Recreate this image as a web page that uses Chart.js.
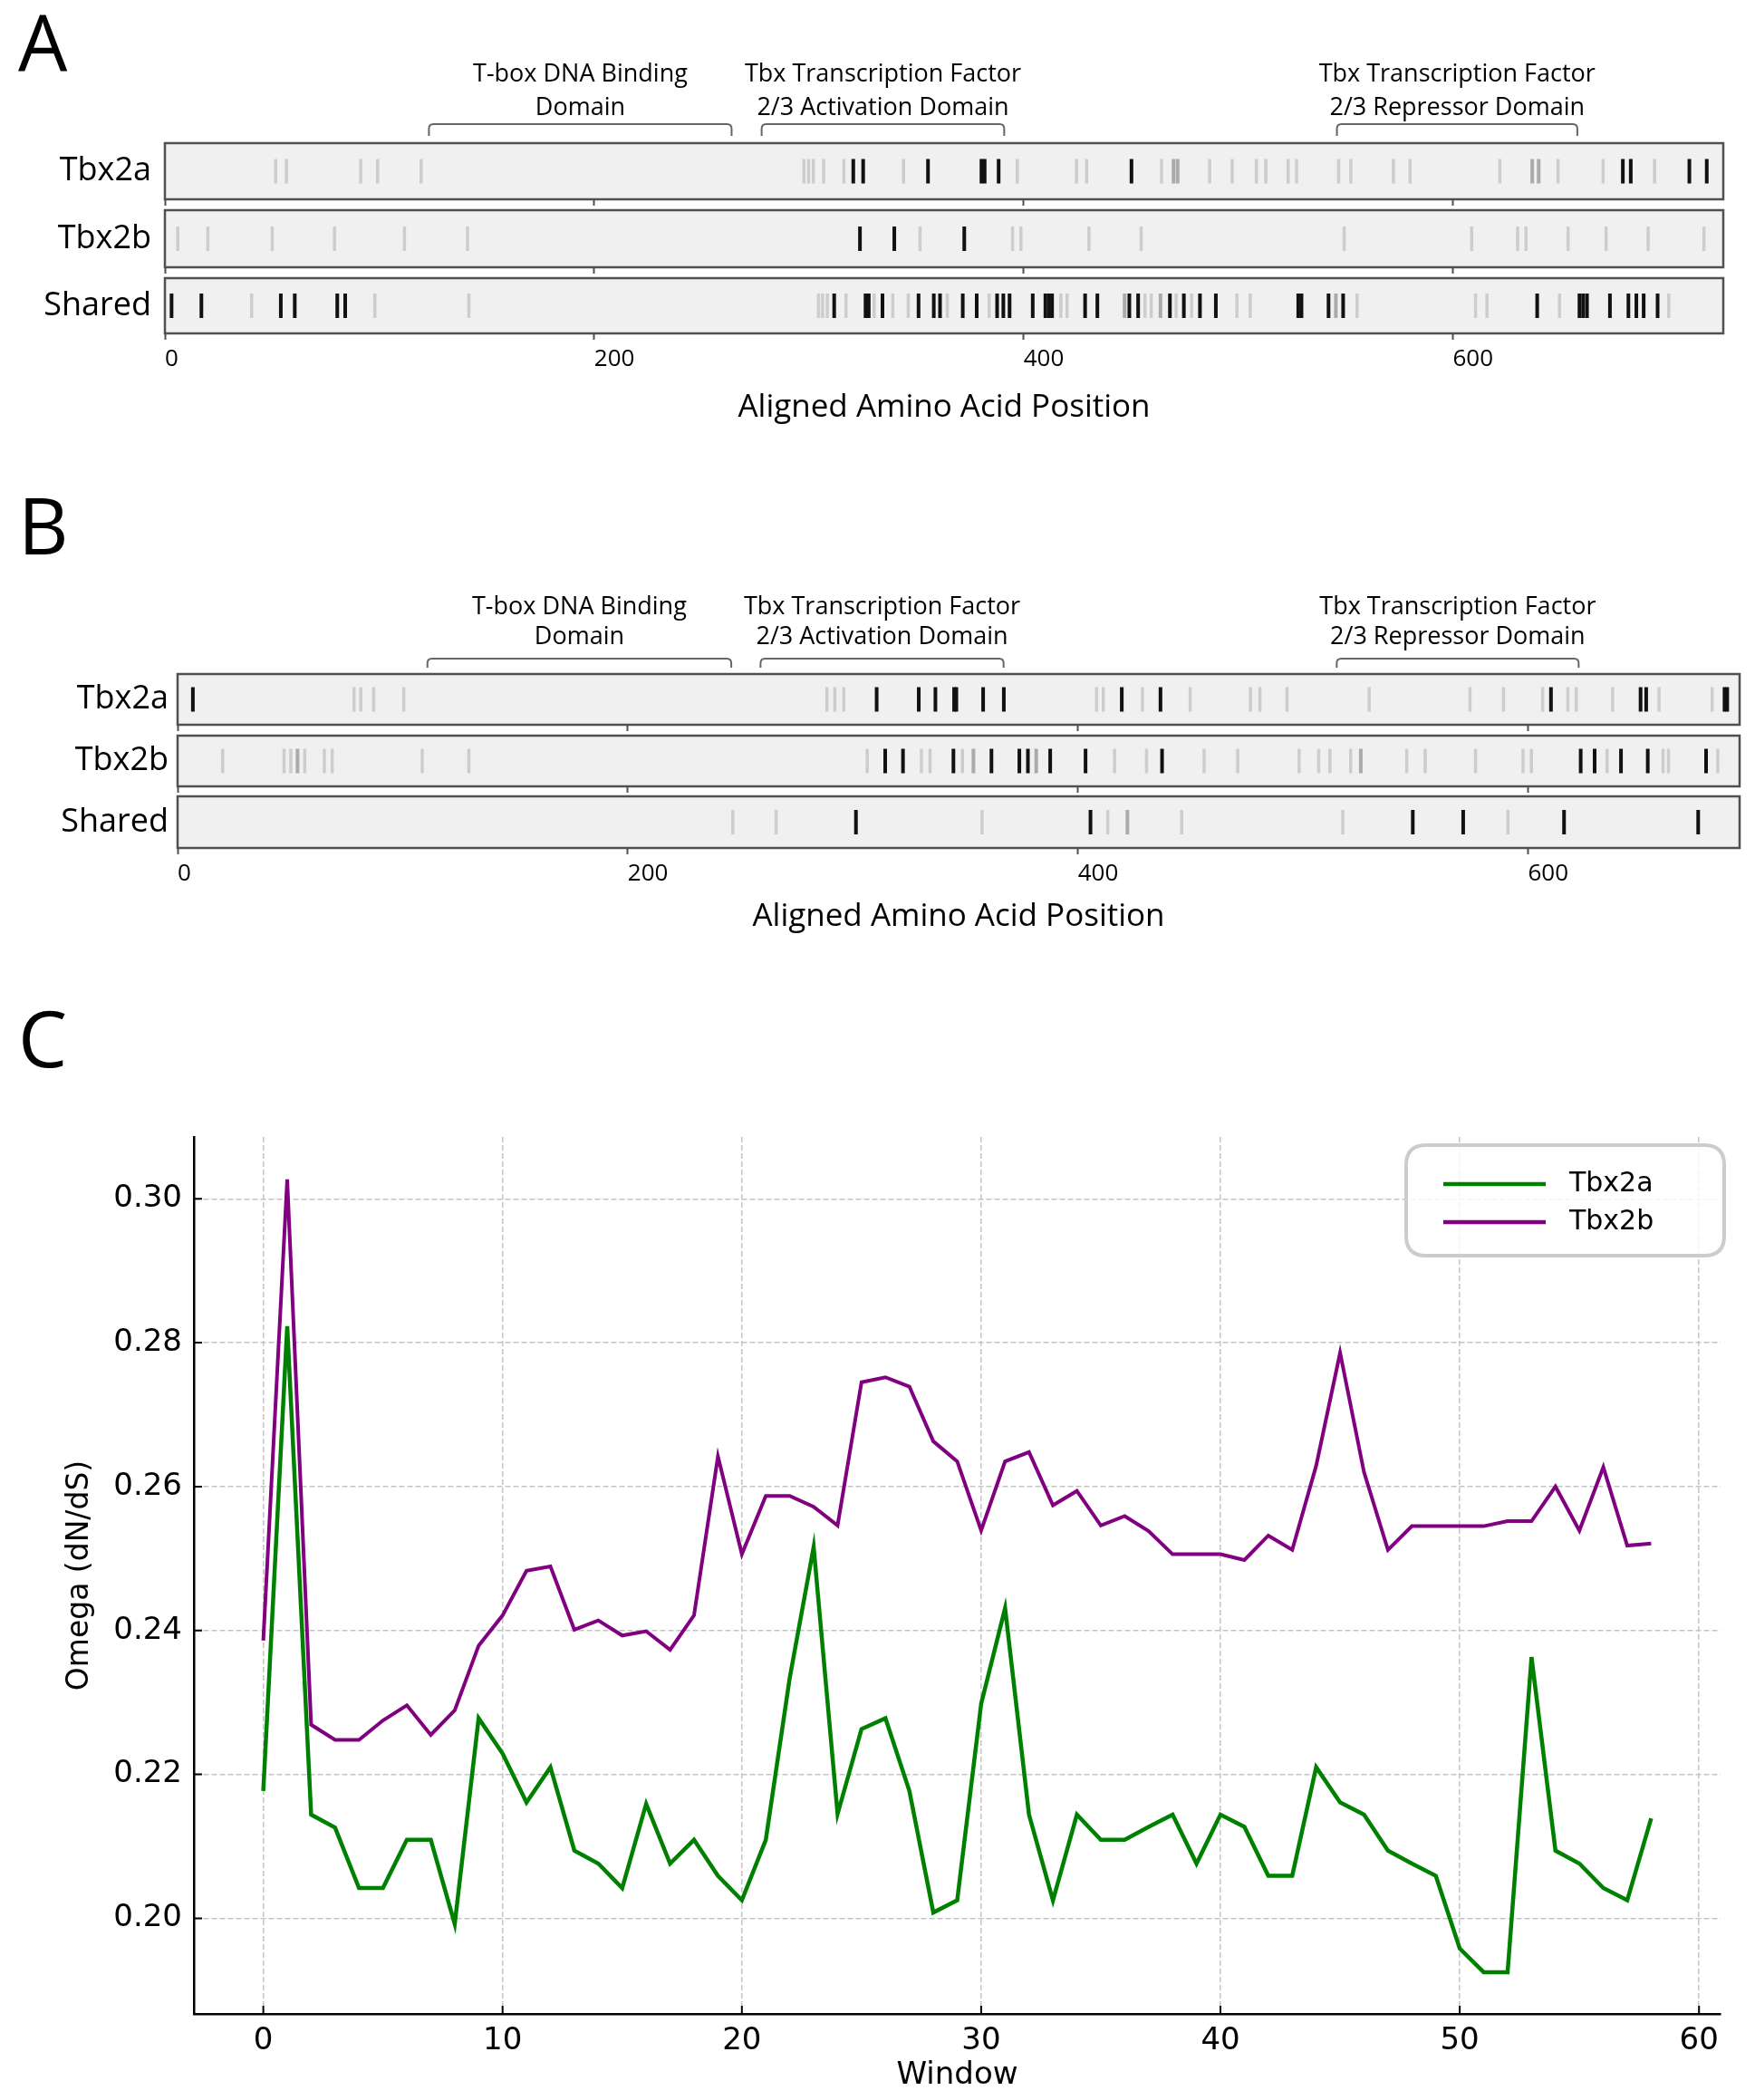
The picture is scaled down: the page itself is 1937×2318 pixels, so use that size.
<!DOCTYPE html>
<html>
<head>
<meta charset="utf-8">
<title>Tbx2a / Tbx2b</title>
<script src="https://cdn.jsdelivr.net/npm/chart.js@4.4.1/dist/chart.umd.min.js"></script>
<style>
html, body { margin: 0; padding: 0; background: #fff; }
body { width: 1937px; height: 2318px; position: relative; overflow: hidden; font-family: 'Open Sans', sans-serif; }
canvas { position: absolute; left: 0; }
.panel { position: absolute; left: 20px; font-size: 86px; line-height: 86px; color: #000; }
</style>
</head>
<body>
<div class="panel" style="top:3px">A</div>
<div class="panel" style="top:536px">B</div>
<div class="panel" style="top:1102px">C</div>

<canvas id="aRow1" width="1937" height="200" style="top:30px"></canvas>
<canvas id="aRow2" width="1937" height="77" style="top:228px"></canvas>
<canvas id="aRow3" width="1937" height="177" style="top:303px"></canvas>
<canvas id="bRow1" width="1937" height="179" style="top:630px"></canvas>
<canvas id="bRow2" width="1937" height="69" style="top:808px"></canvas>
<canvas id="bRow3" width="1937" height="166" style="top:875px"></canvas>
<canvas id="omega" width="1937" height="1078" style="top:1240px"></canvas>

<script>
// ---- data ----
var rowNames = ['Tbx2a', 'Tbx2b', 'Shared'];
var posTicks = [0, 200, 400, 600];

// panel A : aligned positions (light grey / mid grey / black marks)
var aTbx2aLight = [51.6, 56.6, 91.2, 99.1, 119.4, 297.7, 299.9, 302.1, 306.9, 316.3, 344.1, 397.1, 424.7, 429.4, 464.3, 486.7, 497.2, 508.5, 512.9, 523.3, 527.2, 546.8, 552.5, 572.3, 580.1, 621.9, 649, 670, 694];
var aTbx2aMid = [469.9, 471.8, 637, 640];
var aTbx2aDark = [320.7, 325.3, 355.5, 380.4, 381.9, 388.4, 450.3, 679.2, 682.9, 710.2, 718.3];

var aTbx2bLight = [6, 20, 50, 79, 111.6, 141, 351.8, 394.9, 398.8, 430.5, 454.8, 549.4, 608.8, 630.2, 634.1, 653.7, 671.4, 691, 717];
var aTbx2bMid = [];
var aTbx2bDark = [323.8, 339.8, 372.4];

var aSharedLight = [40.4, 97.8, 141.6, 304.5, 306.4, 308.6, 317.3, 330.4, 339.1, 346.3, 364.5, 384, 417.4, 420.3, 456.6, 459.5, 471.1, 478.3, 499.4, 505.6, 555.4, 610.6, 615.9, 649.7, 700.6];
var aSharedMid = [447.1, 463.8, 545.5];
var aSharedDark = [3.1, 17, 54, 60.5, 80.3, 84, 311.8, 326.4, 327.9, 334.3, 351.1, 358.2, 361.1, 371.7, 378.2, 387.7, 390.6, 393.5, 404.3, 410.2, 411.9, 413.3, 428.7, 434.4, 449.3, 453.4, 468.2, 474.7, 482.2, 489.6, 528, 529.5, 542.1, 548.9, 639.3, 659, 660.7, 662.5, 673.2, 681.8, 685.5, 688.9, 695.4];

// panel B
var bTbx2aLight = [78.4, 81.4, 87.1, 100.5, 288.5, 292, 296, 408.3, 411.3, 428.7, 449.9, 476.7, 480.9, 492.9, 529.4, 574.2, 589.1, 606.5, 617.7, 621.4, 637.6, 658.2, 681.8];
var bTbx2aMid = [];
var bTbx2aDark = [6.8, 310.6, 329.3, 336.7, 345, 346, 357.9, 367.1, 419.5, 436.7, 610.2, 650, 652.5, 687.3, 688.5];

var bTbx2bLight = [20, 47.3, 50.3, 56.5, 65.2, 68.7, 108.7, 129.4, 306.4, 330.5, 334.3, 348.7, 416.3, 430.5, 456.1, 471, 498.3, 507, 512, 521.2, 546.1, 554.3, 576.7, 597.8, 601.5, 635.1, 660, 662.4, 684.3];
var bTbx2bMid = [53.3, 353.6, 381.5, 525.7];
var bTbx2bDark = [314.4, 322.3, 344.7, 361.6, 374, 377.8, 387.7, 403.4, 437.4, 623.4, 629.6, 641.3, 653.2, 679.1];

var bSharedLight = [246.7, 265.9, 357.4, 413.3, 446.1, 517.7, 591.1];
var bSharedMid = [422];
var bSharedDark = [301.4, 405.6, 548.8, 571.2, 616, 675.6];

// domain annotations
var domainLines = [
  ['T-box DNA Binding', 'Domain'],
  ['Tbx Transcription Factor', '2/3 Activation Domain'],
  ['Tbx Transcription Factor', '2/3 Repressor Domain']
];
var domainStartA = [123, 278, 546];
var domainEndA = [264, 391, 658];
var domainStartB = [111, 259, 515];
var domainEndB = [246, 367, 622.5];

// panel C : omega per window
var omegaTbx2a = [0.2177, 0.2823, 0.2144, 0.2126, 0.2042, 0.2042, 0.2109, 0.2109, 0.1992, 0.2278,
  0.2229, 0.2161, 0.2210, 0.2094, 0.2076, 0.2042, 0.2159, 0.2076, 0.2109, 0.2059,
  0.2025, 0.2109, 0.2334, 0.2516, 0.2145, 0.2263, 0.2278, 0.2177, 0.2008, 0.2025,
  0.2298, 0.2431, 0.2144, 0.2025, 0.2144, 0.2109, 0.2109, 0.2127, 0.2144, 0.2076,
  0.2144, 0.2127, 0.2059, 0.2059, 0.2210, 0.2161, 0.2144, 0.2094, 0.2076, 0.2059,
  0.1958, 0.1925, 0.1925, 0.2363, 0.2094, 0.2076, 0.2042, 0.2025, 0.2139];
var omegaTbx2b = [0.2386, 0.3027, 0.2269, 0.2248, 0.2248, 0.2275, 0.2296, 0.2255, 0.2289, 0.2379,
  0.2421, 0.2483, 0.2489, 0.2401, 0.2414, 0.2393, 0.2399, 0.2373, 0.2421, 0.2642,
  0.2506, 0.2587, 0.2587, 0.2572, 0.2546, 0.2745, 0.2752, 0.2739, 0.2663, 0.2635,
  0.2539, 0.2635, 0.2648, 0.2574, 0.2594, 0.2546, 0.2559, 0.2538, 0.2506, 0.2506,
  0.2506, 0.2498, 0.2532, 0.2512, 0.2629, 0.2786, 0.2620, 0.2512, 0.2545, 0.2545,
  0.2545, 0.2545, 0.2552, 0.2552, 0.2600, 0.2539, 0.2627, 0.2518, 0.2521];
var windowTicks = [0, 10, 20, 30, 40, 50, 60];
var omegaTicks = [0.20, 0.22, 0.24, 0.26, 0.28, 0.30];

// ---- plugins ----
var stripBox = {
  id: 'stripBox',
  beforeDraw: function(chart) {
    var a = chart.chartArea, c = chart.ctx;
    c.save();
    c.fillStyle = '#f0f0f0';
    c.fillRect(a.left, a.top, a.right - a.left, a.bottom - a.top);
    c.restore();
  },
  afterDraw: function(chart) {
    var a = chart.chartArea, c = chart.ctx;
    c.save();
    c.strokeStyle = '#505050';
    c.lineWidth = 2.5;
    c.strokeRect(a.left, a.top, a.right - a.left, a.bottom - a.top);
    c.restore();
  }
};

function domainPlugin(starts, ends, off) {
  return {
    id: 'domains',
    afterDraw: function(chart) {
      var x = chart.scales.x, top = chart.chartArea.top, c = chart.ctx;
      c.save();
      c.strokeStyle = '#666';
      c.lineWidth = 2;
      c.fillStyle = '#000';
      c.font = '27px "Open Sans"';
      c.textAlign = 'center';
      c.textBaseline = 'middle';
      for (var i = 0; i < starts.length; i++) {
        var x1 = x.getPixelForValue(starts[i]);
        var x2 = x.getPixelForValue(ends[i]);
        var yt = top - off.bracketTop, yb = top - off.bracketBottom, r = 5;
        c.beginPath();
        c.moveTo(x1, yb);
        c.lineTo(x1, yt + r);
        c.quadraticCurveTo(x1, yt, x1 + r, yt);
        c.lineTo(x2 - r, yt);
        c.quadraticCurveTo(x2, yt, x2, yt + r);
        c.lineTo(x2, yb);
        c.stroke();
        var xm = (x1 + x2) / 2;
        c.fillText(domainLines[i][0], xm, top - off.line1);
        c.fillText(domainLines[i][1], xm, top - off.line2);
      }
      c.restore();
    }
  };
}

function marks(list, name) {
  return list.map(function(p) { return {x: p, y: name}; });
}

function noPad(s) {
  s.paddingTop = 0; s.paddingBottom = 0; s.paddingLeft = 0; s.paddingRight = 0;
}

function strip(id, cfg) {
  var ds = [
    {data: marks(cfg.light, cfg.name), borderColor: '#cdcdcd', borderWidth: 3.5},
    {data: marks(cfg.mid, cfg.name), borderColor: '#ababab', borderWidth: 4},
    {data: marks(cfg.dark, cfg.name), borderColor: '#111111', borderWidth: 4}
  ];
  ds.forEach(function(d) {
    d.pointStyle = 'line';
    d.rotation = 90;
    d.pointRadius = 13.5;
    d.pointHoverRadius = 13.5;
  });
  return new Chart(document.getElementById(id), {
    type: 'scatter',
    data: {datasets: ds},
    options: {
      responsive: false,
      animation: false,
      events: [],
      layout: {autoPadding: false, padding: {top: cfg.padTop, right: 1937 - cfg.right, left: 0, bottom: 0}},
      plugins: {legend: {display: false}, tooltip: {enabled: false}},
      scales: {
        x: {
          type: 'linear', min: cfg.min, max: cfg.max,
          afterBuildTicks: function(s) { s.ticks = posTicks.map(function(v) { return {value: v}; }); },
          afterFit: function(s) { s.height = cfg.axisH; noPad(s); },
          grid: {drawOnChartArea: false, drawTicks: true, tickLength: 7, tickWidth: 2, tickColor: '#505050', color: '#505050'},
          border: {display: false},
          ticks: {display: cfg.labels, align: 'start', padding: 6, color: '#000', autoSkip: false, maxRotation: 0,
                  font: {family: 'Open Sans', size: 26}},
          title: {display: !!cfg.title, text: cfg.title || '', color: '#000',
                  font: {family: 'Open Sans', size: 35}, padding: {top: 0, bottom: cfg.titlePad || 0}}
        },
        y: {
          type: 'category', labels: [cfg.name], offset: true,
          afterFit: function(s) { s.width = cfg.left; noPad(s); },
          grid: {display: false, drawTicks: false},
          border: {display: false},
          ticks: {color: '#000', padding: cfg.labelPad, font: {family: 'Open Sans', size: 36}}
        }
      }
    },
    plugins: [stripBox].concat(cfg.extra || [])
  });
}

// ---- panel A ----
var aBase = {left: 182, right: 1902, min: 0, max: 726, labelPad: 15};
strip('aRow1', Object.assign({}, aBase, {name: rowNames[0], light: aTbx2aLight, mid: aTbx2aMid, dark: aTbx2aDark,
  padTop: 128, axisH: 10, labels: false,
  extra: [domainPlugin(domainStartA, domainEndA, {bracketTop: 21, bracketBottom: 8, line1: 76, line2: 39})]}));
strip('aRow2', Object.assign({}, aBase, {name: rowNames[1], light: aTbx2bLight, mid: aTbx2bMid, dark: aTbx2bDark,
  padTop: 4, axisH: 10, labels: false}));
strip('aRow3', Object.assign({}, aBase, {name: rowNames[2], light: aSharedLight, mid: aSharedMid, dark: aSharedDark,
  padTop: 4, axisH: 112, labels: true, title: 'Aligned Amino Acid Position', titlePad: 9}));

// ---- panel B ----
var bBase = {left: 196, right: 1920, min: 0, max: 694, labelPad: 10};
strip('bRow1', Object.assign({}, bBase, {name: rowNames[0], light: bTbx2aLight, mid: bTbx2aMid, dark: bTbx2aDark,
  padTop: 114, axisH: 9, labels: false,
  extra: [domainPlugin(domainStartB, domainEndB, {bracketTop: 17, bracketBottom: 7, line1: 74, line2: 41})]}));
strip('bRow2', Object.assign({}, bBase, {name: rowNames[1], light: bTbx2bLight, mid: bTbx2bMid, dark: bTbx2bDark,
  padTop: 4, axisH: 9, labels: false}));
strip('bRow3', Object.assign({}, bBase, {name: rowNames[2], light: bSharedLight, mid: bSharedMid, dark: bSharedDark,
  padTop: 4, axisH: 105, labels: true, title: 'Aligned Amino Acid Position', titlePad: 8}));

// ---- panel C ----
var omegaExtras = {
  id: 'omegaExtras',
  afterDraw: function(chart) {
    var c = chart.ctx, a = chart.chartArea, x = chart.scales.x, y = chart.scales.y;
    c.save();
    // inward tick marks
    c.strokeStyle = '#000';
    c.lineWidth = 2;
    c.beginPath();
    x.ticks.forEach(function(t) {
      var px = x.getPixelForValue(t.value);
      c.moveTo(px, a.bottom);
      c.lineTo(px, a.bottom - 9);
    });
    y.ticks.forEach(function(t) {
      var py = y.getPixelForValue(t.value);
      c.moveTo(a.left, py);
      c.lineTo(a.left + 9, py);
    });
    c.stroke();
    // legend box
    var bw = 351, bh = 122, bx = a.right + 4 - bw, by = a.top + 9, r = 22;
    c.beginPath();
    c.moveTo(bx + r, by);
    c.lineTo(bx + bw - r, by);
    c.quadraticCurveTo(bx + bw, by, bx + bw, by + r);
    c.lineTo(bx + bw, by + bh - r);
    c.quadraticCurveTo(bx + bw, by + bh, bx + bw - r, by + bh);
    c.lineTo(bx + r, by + bh);
    c.quadraticCurveTo(bx, by + bh, bx, by + bh - r);
    c.lineTo(bx, by + r);
    c.quadraticCurveTo(bx, by, bx + r, by);
    c.closePath();
    c.fillStyle = 'rgba(255,255,255,0.85)';
    c.fill();
    c.strokeStyle = '#cccccc';
    c.lineWidth = 4;
    c.stroke();
    c.font = '30px "DejaVu Sans"';
    c.textBaseline = 'middle';
    c.textAlign = 'left';
    chart.data.datasets.forEach(function(d, i) {
      var ly = by + 43 + i * 42;
      c.strokeStyle = d.borderColor;
      c.lineWidth = 4.5;
      c.beginPath();
      c.moveTo(bx + 41, ly);
      c.lineTo(bx + 154, ly);
      c.stroke();
      c.fillStyle = '#000';
      c.fillText(d.label, bx + 180, ly);
    });
    c.restore();
  }
};

var axisFont = {family: 'DejaVu Sans', size: 34};
new Chart(document.getElementById('omega'), {
  type: 'line',
  data: {
    datasets: [
      {label: 'Tbx2a', data: omegaTbx2a.map(function(v, i) { return {x: i, y: v}; }),
       borderColor: '#008000', borderWidth: 4.5, pointRadius: 0, tension: 0, fill: false},
      {label: 'Tbx2b', data: omegaTbx2b.map(function(v, i) { return {x: i, y: v}; }),
       borderColor: '#800080', borderWidth: 4, pointRadius: 0, tension: 0, fill: false}
    ]
  },
  options: {
    responsive: false,
    animation: false,
    events: [],
    layout: {autoPadding: false, padding: {top: 15, right: 38, left: 0, bottom: 0}},
    plugins: {legend: {display: false}, tooltip: {enabled: false}},
    scales: {
      x: {
        type: 'linear', min: -2.9, max: 60.9,
        afterBuildTicks: function(s) { s.ticks = windowTicks.map(function(v) { return {value: v}; }); },
        afterFit: function(s) { s.height = 95; noPad(s); },
        grid: {color: '#c4c4c4', lineWidth: 1.5, drawTicks: false},
        border: {display: true, color: '#000', width: 2.5, dash: [6, 3]},
        ticks: {padding: 10, color: '#000', font: axisFont, maxRotation: 0, autoSkip: false},
        title: {display: true, text: 'Window', color: '#000', font: axisFont, padding: {top: 0, bottom: 6}}
      },
      y: {
        type: 'linear', min: 0.1867, max: 0.3086,
        afterBuildTicks: function(s) { s.ticks = omegaTicks.map(function(v) { return {value: v}; }); },
        afterFit: function(s) { s.width = 214; noPad(s); },
        grid: {color: '#c4c4c4', lineWidth: 1.5, drawTicks: false},
        border: {display: true, color: '#000', width: 2.5, dash: [6, 3]},
        ticks: {padding: 13, color: '#000', font: axisFont, callback: function(v) { return Number(v).toFixed(2); }},
        title: {display: true, text: 'Omega (dN/dS)', color: '#000', font: {family: 'DejaVu Sans', size: 33},
                padding: {top: 69, bottom: 0}}
      }
    }
  },
  plugins: [omegaExtras]
});
</script>
</body>
</html>
